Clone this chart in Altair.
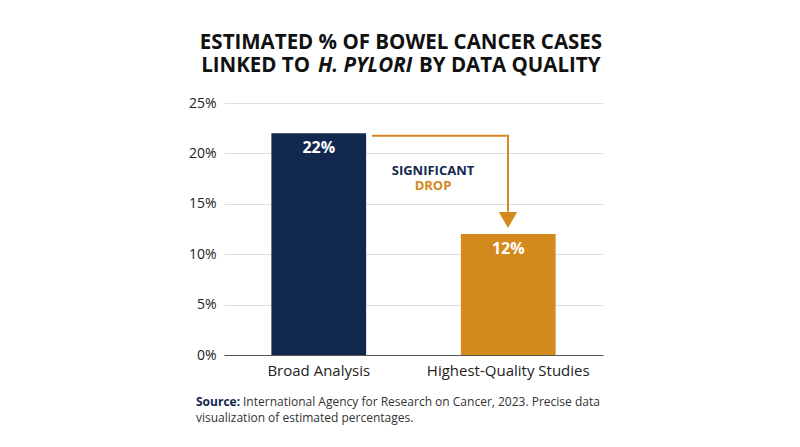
import altair as alt
import pandas as pd

# ---- data ----
categories = ["Broad Analysis", "Highest-Quality Studies"]
values = [22, 12]
value_labels = ["22%", "12%"]
bar_colors = ["#13284f", "#d3891c"]
y_ticks = [0, 5, 10, 15, 20, 25]

title_line1 = "ESTIMATED % OF BOWEL CANCER CASES"
title_line2 = ["LINKED TO", "H. PYLORI", "BY DATA QUALITY"]
annotation_lines = ["SIGNIFICANT", "DROP"]
source_bold = "Source:"
source_lines = ["International Agency for Research on Cancer, 2023. Precise data",
                "visualization of estimated percentages."]

# arrow levels (in % units)
arrow_top = [21.75]
arrow_bottom = [14.2]
arrow_head = [13.4]
annotation_levels = [18.25, 16.75]

NAVY = "#13284f"
ORANGE = "#d3891c"
FONT = "Open Sans"
TEXT = "#222222"

df = pd.DataFrame({"category": categories, "value": values,
                   "label": value_labels, "color": bar_colors})

x_enc = alt.X("category:N", sort=categories,
              scale=alt.Scale(paddingInner=0.5, paddingOuter=0.25),
              axis=alt.Axis(title=None, labelAngle=0, labelFontSize=15, labelColor=TEXT,
                            labelPadding=8, domainColor="#555555", domainWidth=1.2,
                            ticks=False, labelFont=FONT))
y_enc = alt.Y("value:Q", scale=alt.Scale(domain=[0, 25], nice=False, padding=0, zero=True),
              axis=alt.Axis(title=None, values=y_ticks, labelExpr="datum.value + '%'",
                            grid=True, gridColor="#dedede", domain=False, ticks=False,
                            labelFontSize=14, labelPadding=8, labelColor=TEXT, labelFont=FONT))

base = alt.Chart(df)
bars = base.mark_bar().encode(x=x_enc, y=y_enc, color=alt.Color("color:N", scale=None))
bar_text = base.mark_text(color="white", fontWeight="bold", fontSize=16, dy=15,
                          baseline="middle", font=FONT).encode(x=x_enc, y=y_enc, text="label:N")

# arrow
h_line = alt.Chart(pd.DataFrame({"value": arrow_top})).mark_rule(
    color=ORANGE, strokeWidth=2, strokeCap="square").encode(
    x=alt.value(149), x2=alt.value(284), y=alt.Y("value:Q"))
v_line = alt.Chart(pd.DataFrame({"value": arrow_top, "value2": arrow_bottom})).mark_rule(
    color=ORANGE, strokeWidth=2).encode(
    x=alt.value(284), y=alt.Y("value:Q"), y2="value2:Q")
head = alt.Chart(pd.DataFrame({"value": arrow_head})).mark_point(
    shape="triangle-down", filled=True, size=340, color=ORANGE, opacity=1).encode(
    x=alt.value(284), y=alt.Y("value:Q"))

ann_df = pd.DataFrame({"value": annotation_levels, "text": annotation_lines,
                       "color": [NAVY, ORANGE]})
ann = alt.Chart(ann_df).mark_text(fontWeight="bold", fontSize=13, font=FONT,
                                  baseline="middle", align="center").encode(
    x=alt.value(209), y=alt.Y("value:Q"), text="text:N",
    color=alt.Color("color:N", scale=None))

# title
TS = 20.5
t1 = alt.Chart(pd.DataFrame({"t": [title_line1]})).mark_text(
    fontSize=TS, fontWeight="bold", font=FONT, color="#111111", align="center",
    baseline="alphabetic").encode(x=alt.value(177), y=alt.value(-54), text="t:N")
t2a = alt.Chart(pd.DataFrame({"t": [title_line2[0]]})).mark_text(
    fontSize=TS, fontWeight="bold", font=FONT, color="#111111", align="right",
    baseline="alphabetic").encode(x=alt.value(86), y=alt.value(-31), text="t:N")
t2b = alt.Chart(pd.DataFrame({"t": [title_line2[1]]})).mark_text(
    fontSize=TS, fontWeight="bold", fontStyle="italic", font=FONT, color="#111111",
    align="left", baseline="alphabetic").encode(x=alt.value(94), y=alt.value(-31), text="t:N")
t2c = alt.Chart(pd.DataFrame({"t": [title_line2[2]]})).mark_text(
    fontSize=TS, fontWeight="bold", font=FONT, color="#111111", align="left",
    baseline="alphabetic").encode(x=alt.value(195), y=alt.value(-31), text="t:N")

# source
SS = 12
s_bold = alt.Chart(pd.DataFrame({"t": [source_bold]})).mark_text(
    fontSize=SS, fontWeight="bold", font=FONT, color=NAVY, align="left",
    baseline="alphabetic").encode(x=alt.value(-28), y=alt.value(303), text="t:N")
s1 = alt.Chart(pd.DataFrame({"t": [source_lines[0]]})).mark_text(
    fontSize=SS, font=FONT, color="#333333", align="left",
    baseline="alphabetic").encode(x=alt.value(19), y=alt.value(303), text="t:N")
s2 = alt.Chart(pd.DataFrame({"t": [source_lines[1]]})).mark_text(
    fontSize=SS, font=FONT, color="#333333", align="left",
    baseline="alphabetic").encode(x=alt.value(-28), y=alt.value(319), text="t:N")

chart = alt.layer(bars, bar_text, h_line, v_line, head, ann,
                  t1, t2a, t2b, t2c, s_bold, s1, s2).properties(
    width=379, height=252,
    padding={"left": 216, "top": 95, "right": 170, "bottom": 80},
    autosize=alt.AutoSizeParams(type="none"),
    background="white",
).configure_view(stroke=None)

chart.save("out.html", embed_options={"renderer": "svg", "actions": False})
